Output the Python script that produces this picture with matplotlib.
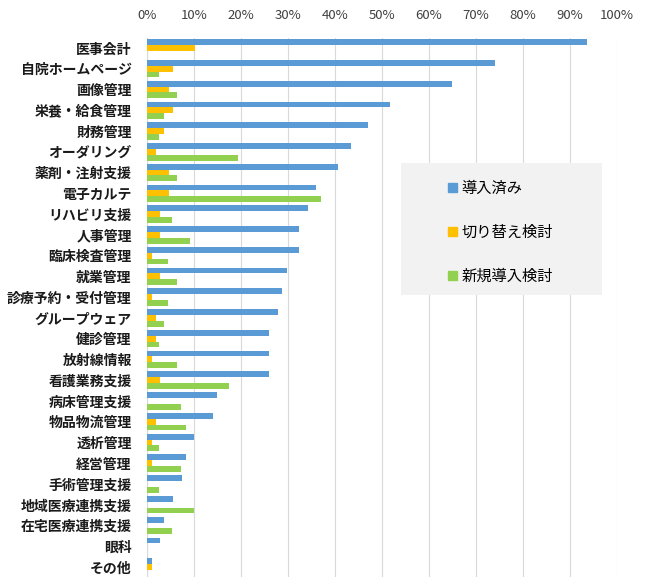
import numpy as np
import matplotlib.pyplot as plt
from matplotlib.patches import Rectangle
from matplotlib.ticker import PercentFormatter

plt.rcParams['font.family'] = ['Noto Sans CJK JP', 'DejaVu Sans']

# カテゴリと各系列の値(%)
categories = ['医事会計', '自院ホームページ', '画像管理', '栄養・給食管理', '財務管理',
              'オーダリング', '薬剤・注射支援', '電子カルテ', 'リハビリ支援', '人事管理',
              '臨床検査管理', '就業管理', '診療予約・受付管理', 'グループウェア', '健診管理',
              '放射線情報', '看護業務支援', '病床管理支援', '物品物流管理', '透析管理',
              '経営管理', '手術管理支援', '地域医療連携支援', '在宅医療連携支援', '眼科', 'その他']
installed = [93.6, 74.0, 64.9, 51.7, 47.1, 43.4, 40.6, 36.0, 34.2, 32.4,
             32.4, 29.8, 28.8, 27.9, 26.0, 26.0, 26.0, 14.8, 14.0, 10.1,
             8.4, 7.4, 5.5, 3.7, 2.8, 1.0]
switching = [10.2, 5.5, 4.7, 5.5, 3.7, 1.9, 4.7, 4.7, 2.8, 2.8,
             1.0, 2.8, 1.0, 1.9, 1.9, 1.0, 2.8, 0.0, 1.9, 1.0,
             1.0, 0.0, 0.0, 0.0, 0.0, 1.0]
new_plan = [0.0, 2.6, 6.3, 3.6, 2.6, 19.3, 6.3, 37.0, 5.3, 9.1,
            4.4, 6.3, 4.4, 3.6, 2.6, 6.3, 17.4, 7.3, 8.2, 2.6,
            7.3, 2.6, 10.0, 5.3, 0.0, 0.0]
series_names = ['導入済み', '切り替え検討', '新規導入検討']
colors = ['#5B9BD5', '#FFC000', '#92D050']

fig = plt.figure(figsize=(6.5, 5.86), dpi=100)
ax = fig.add_axes([147 / 650, 1 - 577.4 / 586, 470 / 650, 539.8 / 586])

y = np.arange(len(categories))
h = 0.28
for i, vals in enumerate([installed, switching, new_plan]):
    ax.barh(y + (i - 1) * h, vals, height=h, color=colors[i], zorder=2)

ax.set_ylim(len(categories) - 0.5, -0.5)
ax.set_xlim(0, 100)
ax.set_xticks(np.arange(0, 101, 10))
ax.xaxis.set_major_formatter(PercentFormatter(decimals=0))
ax.xaxis.tick_top()
ax.tick_params(axis='x', length=0, pad=11, labelsize=9.5, labelcolor='#404040')
ax.set_yticks(y)
ax.set_yticklabels(categories, fontsize=10, fontweight='bold', color='#1a1a1a')
ax.tick_params(axis='y', length=0, pad=11)
ax.grid(axis='x', color='#d9d9d9', linewidth=0.8, zorder=0)
for s in ax.spines.values():
    s.set_visible(False)
ax.axvline(0, color='#bfbfbf', linewidth=0.8, zorder=1)

# 凡例(灰色の背景)
ax.add_patch(Rectangle((0.540, 0.523), 0.428, 0.245, transform=ax.transAxes,
                       facecolor='#f2f2f2', edgecolor='none', zorder=3))
handles = [Rectangle((0, 0), 1, 1, color=c) for c in colors]
leg = ax.legend(handles, series_names, loc='upper left', bbox_to_anchor=(0.625, 0.75),
                frameon=False, fontsize=11, handlelength=0.55, handleheight=0.55,
                handletextpad=0.3, labelspacing=1.75, borderpad=0)
leg.set_zorder(4)

fig.savefig('out.png', dpi=100)
